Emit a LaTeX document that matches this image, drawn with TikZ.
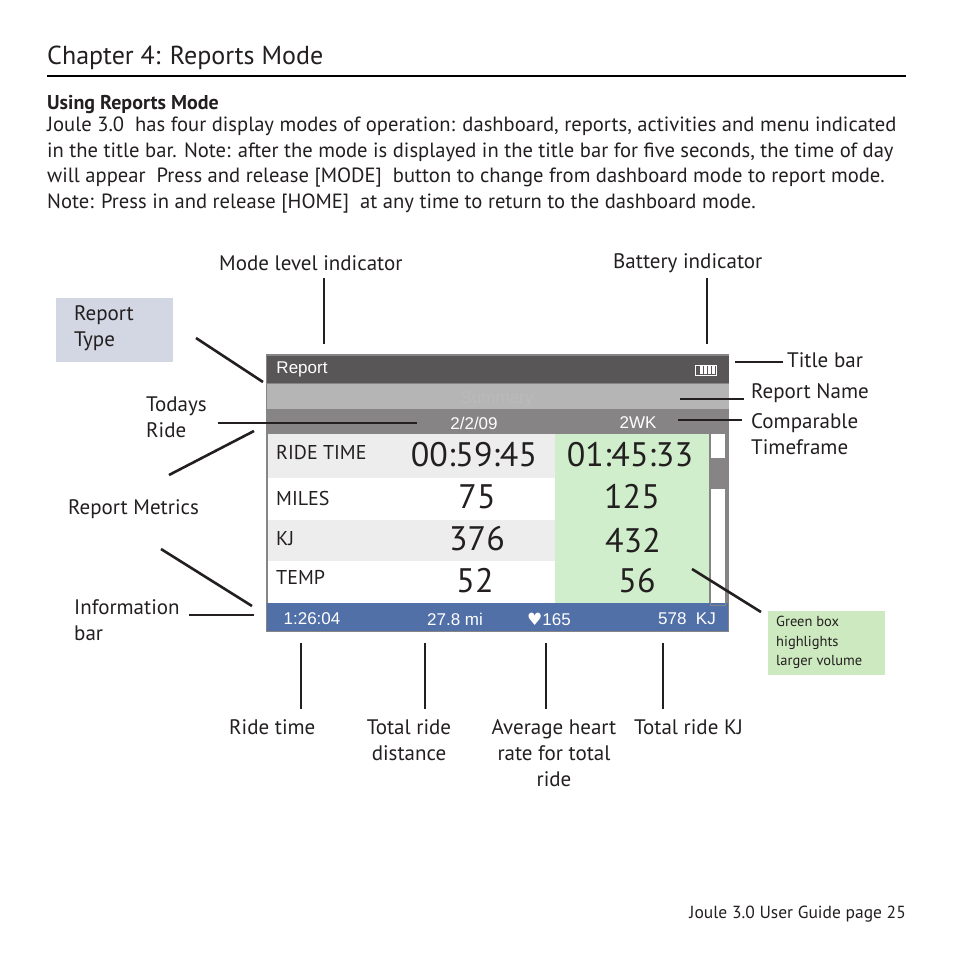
\documentclass[tikz,border=0pt]{standalone}
\usepackage{fontspec}
\usepackage{xcolor}
\setmainfont{PT Sans}
\newfontfamily\screenfont{Liberation Sans}
\newfontfamily\symbolfont{DejaVu Sans}
\definecolor{titlegray}{HTML}{585657}
\definecolor{namegray}{HTML}{B5B5B5}
\definecolor{dategray}{HTML}{868484}
\definecolor{rowgray}{HTML}{EDEDED}
\definecolor{barblue}{HTML}{5270A8}
\definecolor{boxgreen}{HTML}{D0EECB}
\definecolor{notegreen}{HTML}{CDE9BF}
\definecolor{typeblue}{HTML}{D2D7E3}
\definecolor{inkgray}{HTML}{231F20}

\begin{document}
\begin{tikzpicture}[x=1pt,y=-1pt,
    label/.style={anchor=west, inner sep=0pt, align=left, font=\fontsize{21}{26}\selectfont, text=inkgray},
    centerlabel/.style={label, anchor=center, align=center},
    band/.style={anchor=north west, inner sep=0pt, minimum height=#1, outer sep=0pt},
    leader/.style={draw=inkgray, line width=2.6pt},
    metric/.style={anchor=west, inner sep=0pt, font=\fontsize{20}{24}\selectfont, text=inkgray},
    bigvalue/.style={anchor=center, inner sep=0pt, font=\fontsize{34}{40}\selectfont, text=inkgray},
    screentext/.style={anchor=center, inner sep=0pt, text=white, font=\screenfont\fontsize{17}{20}\selectfont}]

    \useasboundingbox (0,0) rectangle (954,954);

    % Page heading
    \node[label, font=\fontsize{26}{30}\selectfont] (chapter) at (47,58) {Chapter 4: Reports Mode};
    \coordinate (ruleL) at (47,76);
    \coordinate (ruleR) at (906,76);
    \draw[draw=black, line width=1.8pt] (ruleL) -- (ruleR);
    \node[label, font=\fontsize{20}{24}\selectfont\bfseries] (using) at (47,105) {Using Reports Mode};
    \node[label, anchor=north west, font=\fontsize{20.6}{25.5}\selectfont] (para) at (47,117)
        {Joule 3.0\ \ has four display modes of operation: dashboard, reports, activities and menu indicated\\
         in the title bar. Note: after the mode is displayed in the title bar for five seconds, the time of day\\
         will appear\ \ Press and release [MODE]\ \ button to change from dashboard mode to report mode.\\
         Note: Press in and release [HOME]\ \ at any time to return to the dashboard mode.};
    \node[anchor=east, inner sep=0pt, font=\fontsize{17.5}{21}\selectfont, text=inkgray] (footer) at (906,914) {Joule 3.0 User Guide page 25};

    % Screen bands
    \fill[dategray] (266,354) rectangle (729,632);
    \fill[titlegray] (267,356) rectangle (729,383);
    \fill[namegray] (267,384) rectangle (729,409);
    \fill[dategray] (267,409) rectangle (727,434);
    \fill[rowgray] (268,434) rectangle (555,478);
    \fill[white] (268,478) rectangle (555,520);
    \fill[rowgray] (268,520) rectangle (555,561);
    \fill[white] (268,561) rectangle (555,603);
    \fill[boxgreen] (555,434) rectangle (709,603);
    \fill[barblue] (267,603) rectangle (728,631);

    % Scroll bar
    \fill[white] (711,434) rectangle (725,603);
    \fill[dategray] (711,458) rectangle (725,489);
    \draw[dategray, line width=1pt] (710,409) rectangle (725,605);

    % Screen text
    \node[screentext] (report) at (302,369) {Report};
    \node[anchor=center, inner sep=0pt, text=black!27, font=\screenfont\fontsize{17}{20}\selectfont] (summary) at (497,399) {Summary};
    \node[screentext] (date) at (474,423) {2/2/09};
    \node[screentext] (twowk) at (638,423) {2WK};

    \node[metric] (ridetime) at (276,453) {RIDE TIME};
    \node[metric] (miles) at (276,498) {MILES};
    \node[metric] (kj) at (276,539) {KJ};
    \node[metric] (temp) at (276,577) {TEMP};

    \node[bigvalue] (valA) at (474,455) {00:59:45};
    \node[bigvalue] (valB) at (477,497) {75};
    \node[bigvalue] (valC) at (477,539) {376};
    \node[bigvalue] (valD) at (475,581) {52};
    \node[bigvalue] (cmpA) at (630,455) {01:45:33};
    \node[bigvalue] (cmpB) at (632,497) {125};
    \node[bigvalue] (cmpC) at (633,541) {432};
    \node[bigvalue] (cmpD) at (637,581) {56};

    \node[screentext] (bartime) at (312,619) {1:26:04};
    \node[screentext] (bardist) at (455,619) {27.8 mi};
    \node[screentext] (barheart) at (549,619) {{\symbolfont\fontsize{17}{20}\selectfont ♥}165};
    \node[screentext] (barkj) at (687,619) {578\ \ KJ};

    % Battery icon
    \node[draw=white, fill=titlegray, line width=0.8pt, minimum width=21pt, minimum height=10pt, inner sep=0pt] (battery) at (706,370) {};
    \foreach \i in {700,704,708,712} {
        \fill[white] (\i,366) rectangle ++(3,8);
    }

    % Boxes
    \node[band=64pt, minimum width=117pt, fill=typeblue] (typebox) at (56,298) {};
    \node[label, anchor=north west] (typelabel) at (74,305) {Report\\Type};
    \node[band=64pt, minimum width=117pt, fill=notegreen] (notebox) at (768,611) {};
    \node[label, anchor=north west, font=\fontsize{14.5}{19.5}\selectfont] (notelabel) at (776,616) {Green box\\highlights\\larger volume};

    % Labels
    \node[label] (mode) at (219,263) {Mode level indicator};
    \node[label] (battlabel) at (613,263) {Battery indicator};
    \node[label] (titlelabel) at (787,360) {Title bar};
    \node[label] (namelabel) at (751,393) {Report Name};
    \node[label, anchor=north west] (cmplabel) at (751,413) {Comparable\\Timeframe};
    \node[label, anchor=north west] (todays) at (146,397) {Todays\\Ride};
    \node[label] (metrics) at (68,509) {Report Metrics};
    \node[label, anchor=north west] (infolabel) at (74,599) {Information\\bar};
    \node[label] (ridelabel) at (229,727) {Ride time};
    \node[centerlabel] (distlabel) at (409,740) {Total ride\\distance};
    \node[centerlabel] (heartlabel) at (554,753) {Average heart\\rate for total\\ride};
    \node[label] (kjlabel) at (634,727) {Total ride KJ};

    % Leader lines
    \coordinate (modeA) at (324,278);
    \coordinate (modeB) at (324,344);
    \coordinate (battA) at (707,278);
    \coordinate (battB) at (707,344);
    \coordinate (typeA) at (196,338);
    \coordinate (typeB) at (263,382);
    \coordinate (titleA) at (735,362);
    \coordinate (titleB) at (783,362);
    \coordinate (nameA) at (680,399);
    \coordinate (nameB) at (744,399);
    \coordinate (cmpLA) at (678,420);
    \coordinate (cmpLB) at (742,420);
    \coordinate (todayA) at (218,423);
    \coordinate (todayB) at (417,423);
    \coordinate (metA) at (169,475);
    \coordinate (metB) at (254,431);
    \coordinate (metC) at (161,549);
    \coordinate (metD) at (252,606);
    \coordinate (infoA) at (189,615);
    \coordinate (infoB) at (254,615);
    \coordinate (greenA) at (692,569);
    \coordinate (greenB) at (761,612);
    \coordinate (rideA) at (301,643);
    \coordinate (rideB) at (301,709);
    \coordinate (distA) at (425,643);
    \coordinate (distB) at (425,709);
    \coordinate (heartA) at (546,643);
    \coordinate (heartB) at (546,709);
    \coordinate (kjA) at (663,643);
    \coordinate (kjB) at (663,709);

    \draw[leader] (modeA) -- (modeB);
    \draw[leader] (battA) -- (battB);
    \draw[leader] (typeA) -- (typeB);
    \draw[leader] (titleA) -- (titleB);
    \draw[leader] (nameA) -- (nameB);
    \draw[leader] (cmpLA) -- (cmpLB);
    \draw[leader] (todayA) -- (todayB);
    \draw[leader] (metA) -- (metB);
    \draw[leader] (metC) -- (metD);
    \draw[leader] (infoA) -- (infoB);
    \draw[leader] (greenA) -- (greenB);
    \draw[leader] (rideA) -- (rideB);
    \draw[leader] (distA) -- (distB);
    \draw[leader] (heartA) -- (heartB);
    \draw[leader] (kjA) -- (kjB);
\end{tikzpicture}
\end{document}
